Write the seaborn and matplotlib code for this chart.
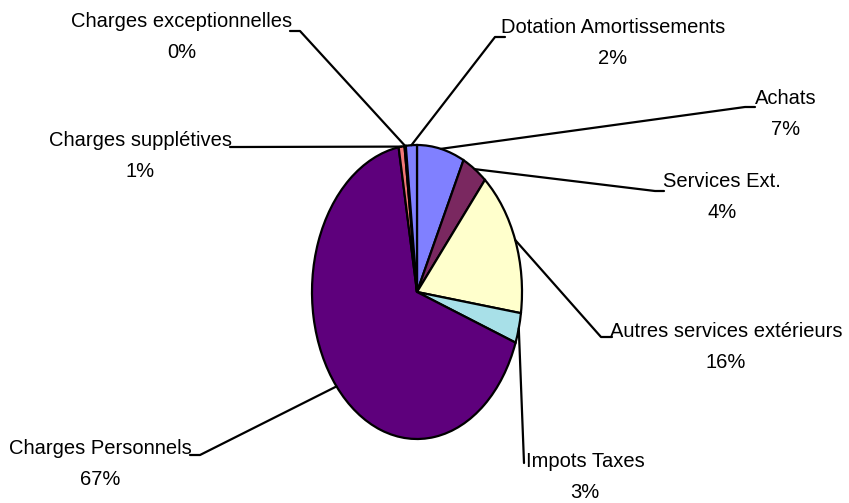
import numpy as np
import matplotlib
matplotlib.use("Agg")
import matplotlib.pyplot as plt
import seaborn as sns

# Données (en % du total des charges)
postes = ['Achats', 'Services Ext.', 'Autres services extérieurs', 'Impots Taxes',
          'Charges Personnels', 'Charges supplétives', 'Charges exceptionnelles',
          'Dotation Amortissements']
valeurs = [7.3, 3.9, 16.1, 3.3, 66.6, 0.9, 0.2, 1.7]
couleurs = ['#8080ff', '#7a2860', '#ffffcc', '#a8e0e8', '#5e007c', '#f27878', '#0066cc', '#8080ff']

sns.set_theme(style='white')
plt.rcParams['font.family'] = ['Liberation Sans', 'DejaVu Sans']

W, H = 849, 503
CX, CY, RX, RY = 417, 292, 105, 147

fig = plt.figure(figsize=(W / 100, H / 100), dpi=100)
ax = fig.add_axes([0, 0, 1, 1])
ax.pie(valeurs, colors=couleurs, startangle=90, counterclock=False,
       wedgeprops=dict(edgecolor='black', linewidth=1.6))
ax.set_aspect('auto')
ax.set_xlim(-CX / RX, (W - CX) / RX)
ax.set_ylim(-(H - CY) / RY, CY / RY)
ax.axis('off')


def px(x, y):
    # pixel (depuis le haut à gauche) -> coordonnées de données
    return (x - CX) / RX, (CY - y) / RY


# position du texte (centre) et bout du trait, en pixels
etiquettes = {
    'Achats': ((786, 114), (745, 107), (755, 107)),
    'Services Ext.': ((722, 197), (655, 191), (664, 191)),
    'Autres services extérieurs': ((726, 347), (601, 337), (612, 337)),
    'Impots Taxes': ((585, 477), (524, 463), (526, 463)),
    'Charges Personnels': ((100, 464), (200, 455), (190, 455)),
    'Charges supplétives': ((140, 156), (240, 147), (230, 147)),
    'Charges exceptionnelles': ((182, 37), (300, 31), (290, 31)),
    'Dotation Amortissements': ((613, 43), (495, 37), (505, 37)),
}

total = sum(valeurs)
cumul = 0
for nom, v in zip(postes, valeurs):
    theta = np.deg2rad(360 * (cumul + v / 2) / total)
    cumul += v
    (tx, ty), (lx, ly), (sx, sy) = etiquettes[nom]
    x0, y0 = np.sin(theta), np.cos(theta)
    x1, y1 = px(lx, ly)
    x2, y2 = px(sx, sy)
    if nom == 'Impots Taxes':
        ax.plot([x0, x1], [y0, y1], color='black', lw=1.6)
    else:
        ax.plot([x0, x1, x2], [y0, y1, y2], color='black', lw=1.6)
    ax.text(*px(tx, ty), f"{nom}\n{round(100 * v / total):.0f}%", ha='center', va='center',
            multialignment='center', fontsize=14.5, linespacing=1.75, color='black')

fig.savefig('out.png', dpi=100)
